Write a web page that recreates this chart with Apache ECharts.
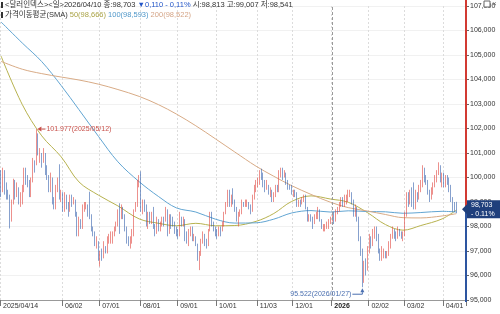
<!DOCTYPE html>
<html><head><meta charset="utf-8">
<script src="https://cdn.jsdelivr.net/npm/echarts@6/dist/echarts.min.js"></script>
<style>html,body{margin:0;padding:0;background:#fff;}#chart{width:500px;height:314px;}</style>
</head><body><div id="chart"></div>
<script>
const FONT = "'Liberation Sans','Noto Sans CJK KR',sans-serif";
const FS = 7;
const HFS = 7.5;

// trading days per month
const monthDays = [
 ['2025/04',[14,15,16,17,18,21,22,23,24,25,28,29,30]],
 ['2025/05',[1,2,5,6,7,8,9,12,13,14,15,16,19,20,21,22,23,26,27,28,29,30]],
 ['2025/06',[2,3,4,5,6,9,10,11,12,13,16,17,18,19,20,23,24,25,26,27,30]],
 ['2025/07',[1,2,3,4,7,8,9,10,11,14,15,16,17,18,21,22,23,24,25,28,29,30,31]],
 ['2025/08',[1,4,5,6,7,8,11,12,13,14,15,18,19,20,21,22,25,26,27,28,29]],
 ['2025/09',[1,2,3,4,5,8,9,10,11,12,15,16,17,18,19,22,23,24,25,26,29,30]],
 ['2025/10',[1,2,3,6,7,8,9,10,13,14,15,16,17,20,21,22,23,24,27,28,29,30,31]],
 ['2025/11',[3,4,5,6,7,10,11,12,13,14,17,18,19,20,21,24,25,26,27,28]],
 ['2025/12',[1,2,3,4,5,8,9,10,11,12,15,16,17,18,19,22,23,24,26,29,30,31]],
 ['2026/01',[2,5,6,7,8,9,12,13,14,15,16,19,20,21,22,23,26,27,28,29,30]],
 ['2026/02',[2,3,4,5,6,9,10,11,12,13,16,17,18,19,20,23,24,25,26,27]],
 ['2026/03',[2,3,4,5,6,9,10,11,12,13,16,17,18,19,20,23,24,25,26,27,30,31]],
 ['2026/04',[1,2,3,6,7,8,9,10]]
];

// daily candles: [open, close, low, high]
const ohlc = [
 // 2025/04
 [99.90,99.64,99.20,100.30],[99.60,100.22,99.40,100.40],[100.20,99.38,99.30,100.30],[99.40,99.38,99.10,99.80],[99.40,99.23,99.10,99.50],
 [99.20,98.28,97.92,99.30],[98.30,98.92,98.20,99.10],[98.95,99.84,98.90,99.95],[99.80,99.30,99.10,99.90],[99.30,99.47,99.20,99.80],
 [99.50,98.99,98.90,99.60],[99.00,99.21,98.80,99.40],[99.20,99.47,98.90,99.70],
 // 2025/05
 [99.50,100.25,99.40,100.40],[100.20,99.98,99.70,100.40],[100.00,99.84,99.60,100.10],[99.80,99.25,99.20,99.90],[99.30,99.89,99.20,100.00],
 [99.90,100.64,99.80,100.80],[100.60,100.42,100.20,100.70],[100.60,101.79,100.50,101.977],[101.80,100.99,100.90,101.80],[101.00,101.05,100.60,101.20],
 [101.00,100.85,100.40,101.00],[100.80,100.98,100.60,101.20],[100.90,100.39,100.10,101.00],[100.40,100.06,99.90,100.50],[100.00,99.55,99.40,100.10],
 [99.50,99.96,99.40,100.20],[99.90,99.11,98.90,100.00],[99.10,98.93,98.70,99.20],[98.90,99.53,98.70,99.70],[99.50,99.88,99.40,100.00],
 [99.90,99.29,99.10,100.54],[99.30,99.33,99.00,99.50],
 // 2025/06
 [99.30,98.69,98.60,99.40],[98.70,99.26,98.60,99.40],[99.30,98.79,98.70,99.30],[98.80,98.76,98.40,99.00],[98.70,99.19,98.60,99.30],
 [99.20,99.00,98.80,99.30],[99.00,99.09,98.90,99.20],[99.10,98.64,98.40,99.10],[98.60,97.92,97.60,98.60],[97.90,98.18,97.60,98.40],
 [98.20,98.03,97.90,98.30],[98.00,98.88,97.90,98.90],[98.90,98.90,98.60,99.00],[98.90,98.91,98.70,99.00],[98.90,98.71,98.40,98.90],
 [98.70,98.42,98.30,99.42],[98.40,97.86,97.80,98.50],[97.90,97.70,97.60,98.00],[97.70,97.38,97.20,97.80],[97.40,97.40,97.10,97.60],
 [97.40,96.88,96.60,97.40],
 // 2025/07
 [96.80,96.82,96.37,97.00],[96.80,96.76,96.60,97.10],[96.80,97.18,96.70,97.40],[97.20,96.98,96.90,97.20],[97.00,97.49,96.90,97.60],
 [97.50,97.55,97.30,97.70],[97.50,97.54,97.30,97.80],[97.50,97.65,97.30,97.80],[97.60,97.85,97.60,98.00],[97.90,98.08,97.80,98.20],
 [98.10,98.62,98.00,98.70],[98.60,98.38,97.70,98.95],[98.40,98.73,98.30,98.90],[98.70,98.46,98.30,98.80],[98.50,97.85,97.80,98.50],
 [97.90,97.39,97.30,98.00],[97.40,97.21,97.20,97.60],[97.20,97.38,97.10,97.60],[97.40,97.65,97.30,97.90],[97.60,98.63,97.60,98.70],
 [98.60,98.89,98.60,99.00],[98.90,99.78,98.80,99.90],[99.80,99.97,99.60,100.10],
 // 2025/08
 [100.00,98.69,98.60,100.25],[98.70,98.79,98.50,99.10],[98.80,98.78,98.60,99.10],[98.80,98.18,98.00,98.90],[98.20,98.39,97.90,98.60],
 [98.40,98.19,98.10,98.60],[98.20,98.51,98.10,98.60],[98.50,98.09,97.90,98.80],[98.10,97.84,97.60,98.10],[97.80,98.26,97.70,98.40],
 [98.30,97.85,97.80,98.30],[97.90,98.15,97.80,98.20],[98.10,98.27,98.00,98.40],[98.30,98.23,98.00,98.40],[98.20,98.62,98.20,98.80],
 [98.60,97.72,97.60,98.70],[97.70,98.43,97.70,98.50],[98.40,98.23,97.90,98.50],[98.20,98.20,98.00,98.40],[98.20,97.80,97.70,98.20],
 [97.80,97.77,97.60,98.00],
 // 2025/09
 [97.80,97.68,97.50,97.90],[97.70,98.38,97.60,98.60],[98.40,98.15,98.00,98.40],[98.10,98.35,98.00,98.40],[98.30,97.73,97.40,98.30],
 [97.70,97.44,97.30,97.80],[97.40,97.80,97.20,97.90],[97.80,97.80,97.60,98.00],[97.80,97.53,97.40,98.00],[97.50,97.55,97.40,97.70],
 [97.50,97.31,97.20,97.60],[97.30,96.63,96.60,97.30],[96.60,96.87,96.22,97.00],[96.90,97.35,96.80,97.50],[97.40,97.65,97.30,97.80],
 [97.60,97.33,97.20,97.70],[97.30,97.24,97.10,97.50],[97.20,97.86,97.20,97.90],[97.90,98.55,97.80,98.60],[98.50,98.16,98.00,98.60],
 [98.10,97.94,97.80,98.20],[97.90,97.77,97.60,98.00],
 // 2025/10
 [97.80,97.71,97.50,97.90],[97.70,97.85,97.60,98.00],[97.80,97.72,97.60,98.00],[97.80,98.11,97.80,98.20],[98.10,98.58,98.00,98.60],
 [98.60,98.86,98.50,99.00],[98.90,99.47,98.80,99.50],[99.40,98.83,98.80,99.50],[98.90,99.27,98.80,99.30],[99.30,99.05,98.90,99.56],
 [99.00,98.71,98.60,99.10],[98.70,98.34,98.20,98.80],[98.30,98.43,98.00,98.60],[98.50,98.58,98.40,98.70],[98.60,98.98,98.50,99.10],
 [99.00,98.89,98.80,99.00],[98.90,98.93,98.80,99.10],[98.90,98.95,98.80,99.10],[98.90,98.78,98.70,99.00],[98.80,98.67,98.50,98.90],
 [98.70,99.20,98.60,99.30],[99.20,99.53,99.10,99.70],[99.50,99.80,99.40,99.90],
 // 2025/11
 [99.80,99.87,99.60,100.00],[99.90,100.20,99.70,100.30],[100.20,100.15,99.90,100.36],[100.20,99.71,99.60,100.20],[99.70,99.60,99.40,99.90],
 [99.60,99.63,99.50,99.90],[99.60,99.43,99.30,99.70],[99.40,99.49,99.20,99.60],[99.50,99.16,99.00,99.50],[99.20,99.29,99.00,99.40],
 [99.30,99.56,99.20,99.70],[99.60,99.53,99.40,99.70],[99.50,100.23,99.40,100.30],[100.20,100.22,100.00,100.40],[100.20,100.16,99.90,100.40],
 [100.20,100.20,100.00,100.30],[100.20,99.79,99.70,100.20],[99.80,99.59,99.50,99.90],[99.60,99.56,99.50,99.70],[99.60,99.46,99.30,99.70],
 // 2025/12
 [99.40,99.42,99.20,99.50],[99.40,99.37,99.20,99.50],[99.40,98.88,98.80,99.40],[98.90,98.99,98.80,99.10],[99.00,98.99,98.80,99.10],
 [99.00,99.09,98.90,99.20],[99.10,99.23,99.00,99.30],[99.20,98.79,98.70,99.30],[98.80,98.35,98.20,98.80],[98.40,98.40,98.20,98.50],
 [98.40,98.31,98.20,98.50],[98.30,98.15,97.90,98.40],[98.20,98.40,98.10,98.50],[98.40,98.43,98.30,98.60],[98.40,98.72,98.30,98.80],
 [98.70,98.28,98.20,98.70],[98.30,97.94,97.90,98.30],[97.90,97.93,97.80,98.10],[97.90,98.02,97.80,98.10],[98.00,98.02,97.90,98.20],
 [98.00,98.23,97.90,98.30],[98.20,98.25,98.10,98.40],
 // 2026/01
 [98.30,98.43,98.20,98.60],[98.40,98.26,98.10,98.60],[98.30,98.59,98.20,98.70],[98.60,98.68,98.50,98.80],[98.70,98.90,98.60,99.00],
 [98.90,99.13,98.80,99.20],[99.10,98.87,98.80,99.20],[98.90,99.15,98.80,99.30],[99.10,99.12,98.90,99.30],[99.10,99.32,99.00,99.50],
 [99.30,99.39,99.20,99.50],[99.40,99.00,98.90,99.40],[99.00,98.60,98.40,99.10],[98.60,98.75,98.40,98.90],[98.70,98.35,98.20,98.80],
 [98.30,97.60,97.40,98.40],[97.50,97.00,96.80,97.60],[97.00,95.90,95.522,97.10],[95.90,96.40,95.70,96.60],[96.40,96.25,96.00,96.70],
 [96.30,97.10,96.20,97.20],
 // 2026/02
 [97.10,97.50,96.90,97.70],[97.50,97.30,97.10,97.60],[97.30,97.70,97.20,97.90],[97.70,97.90,97.50,98.00],[97.90,97.60,97.40,98.00],
 [97.60,97.00,96.90,97.70],[97.00,96.80,96.60,97.10],[96.80,96.90,96.60,97.20],[96.90,96.95,96.70,97.10],[96.90,96.85,96.70,97.00],
 [96.85,96.90,96.70,97.00],[96.90,97.20,96.80,97.40],[97.20,97.60,97.10,97.70],[97.60,97.80,97.50,98.00],[97.80,97.70,97.50,97.90],
 [97.70,97.55,97.40,97.80],[97.60,97.80,97.50,98.00],[97.80,97.70,97.60,97.90],[97.70,97.60,97.50,97.80],[97.60,97.70,97.40,97.80],
 // 2026/03
 [97.70,98.50,97.60,98.60],[98.50,99.20,98.40,99.40],[99.20,99.05,98.80,99.40],[99.00,99.30,98.90,99.50],[99.30,99.00,98.80,99.60],
 [99.00,98.80,98.70,99.80],[98.80,99.30,98.70,99.50],[99.30,99.20,99.00,99.40],[99.20,99.50,99.10,99.70],[99.50,99.70,99.40,99.90],
 [99.70,100.30,99.60,100.50],[100.30,99.90,99.80,100.40],[99.90,99.85,99.70,100.10],[99.90,99.40,99.30,99.90],[99.40,99.20,99.00,99.50],
 [99.20,99.40,99.10,99.60],[99.40,99.70,99.30,99.80],[99.70,99.90,99.60,100.10],[99.90,100.20,99.80,100.30],[100.20,100.45,100.10,100.62],
 [100.40,99.90,99.80,100.50],[99.90,100.10,99.60,100.20],
 // 2026/04
 [100.10,99.80,99.60,100.20],[99.80,100.00,99.60,100.10],[100.00,99.90,99.70,100.10],[99.90,99.60,99.40,100.00],[99.60,99.20,99.00,99.70],
 [99.10,98.90,98.60,99.20],[98.90,98.81,98.60,99.00],[98.813,98.703,98.541,99.007]
];

// moving averages read at checkpoints
const maDates = ['2025/04/14','2025/04/30','2025/05/15','2025/05/30','2025/06/13','2025/06/30','2025/07/15','2025/07/31','2025/08/15','2025/08/29','2025/09/15','2025/09/30','2025/10/15','2025/10/31','2025/11/14','2025/11/28','2025/12/15','2025/12/31','2026/01/15','2026/01/30','2026/02/13','2026/02/27','2026/03/13','2026/03/31','2026/04/10'];
const ma50  = [104.96,102.98,101.70,100.84,99.82,99.28,98.84,98.31,98.13,98.03,98.13,98.03,98.04,98.21,98.53,99.02,99.25,99.12,98.99,98.56,98.08,97.85,98.04,98.31,98.666];
const ma100 = [106.35,105.49,104.73,103.75,102.77,101.68,100.64,99.83,99.22,98.76,98.59,98.30,98.14,98.15,98.30,98.55,98.65,98.59,98.64,98.61,98.60,98.54,98.57,98.62,98.593];
const ma200 = [104.74,104.42,104.24,104.10,103.98,103.81,103.59,103.31,102.97,102.59,102.11,101.58,101.04,100.46,100.05,99.67,99.31,98.99,98.77,98.63,98.49,98.36,98.35,98.43,98.522];

const yMin = 95, yMax = 107, yStep = 1;
const lastClose = 98.703;
const lastCloseText = '98,703';
const lastChangeText = '- 0.11%';
const highPoint = {date:'2025/05/12', value:101.977, text:'101.977(2025/05/12)'};
const lowPoint = {date:'2026/01/27', value:95.522, text:'95.522(2026/01/27)'};
const divider = '2026/01/02';

// categories
const cats = [];
const monthStart = new Set();
monthDays.forEach(([ym, days]) => {
  days.forEach((d, k) => {
    if (k === 0 && ym !== '2025/05') monthStart.add(cats.length);
    cats.push(ym + '/' + String(d).padStart(2, '0'));
  });
});
for (let i = 1; i <= 5; i++) cats.push('pad' + i);

const toPairs = arr => maDates.map((d, i) => [cats.indexOf(d), arr[i]]);
const showIdx = (i) => monthStart.has(i);

const UP = '#e0463f', DOWN = '#3562ad';
const chart = echarts.init(document.getElementById('chart'), null, {renderer:'canvas', width:500, height:314});
const rs = (c, extra) => Object.assign({color: c, fontSize: HFS, fontFamily: FONT}, extra || {});

chart.setOption({
  animation: false,
  backgroundColor: '#fff',
  textStyle: {fontFamily: FONT},
  grid: {left: 0, right: 34, top: 6, bottom: 14, containLabel: false},
  title: [
    {left: 5, top: 1, padding: 0, text: '{a|<달러인덱스><일>2026/04/10 종:98,703 }{b|▼0,110 - 0,11%}{a| 시:98,813 고:99,007 저:98,541}',
     textStyle: {fontSize: HFS, fontWeight: 'normal', fontFamily: FONT, rich: {a: rs('#333'), b: rs('#2255c8')}}},
    {left: 5, top: 11, padding: 0, text: '{a|가격이동평균(SMA) }{c|50(98,666) }{d|100(98,593) }{e|200(98,522)}',
     textStyle: {fontSize: HFS, fontWeight: 'normal', fontFamily: FONT, rich: {a: rs('#333'), c: rs('#aaa346'), d: rs('#4f97c9'), e: rs('#d4a486')}}}
  ],
  xAxis: {
    type: 'category', data: cats, boundaryGap: true,
    axisLine: {show: true, lineStyle: {color: '#999', width: 1}},
    axisTick: {show: true, interval: (i) => showIdx(i), length: 6, lineStyle: {color: '#777'}},
    axisLabel: {
      show: true, interval: (i) => showIdx(i), align: 'left', margin: 2, fontSize: FS, color: '#333', fontFamily: FONT,
      padding: [1, 0, 0, 2],
      formatter: (v, i) => {
        if (i === 0) return v;
        if (v.slice(5, 7) === '01') return '{b|' + v.slice(0, 4) + '}';
        return v.slice(5);
      },
      rich: {b: {fontWeight: 'bold', fontSize: FS, color: '#222', fontFamily: FONT}}
    },
    splitLine: {show: true, interval: (i) => showIdx(i), lineStyle: {color: '#dcdcdc', type: [2, 2], width: 1}}
  },
  yAxis: {
    type: 'value', position: 'right', min: yMin, max: yMax, interval: yStep,
    axisLine: {show: false},
    axisTick: {show: true, length: 3, lineStyle: {color: '#666'}},
    axisLabel: {margin: 4, fontSize: FS, color: '#333', fontFamily: FONT, formatter: v => v.toFixed(3).replace('.', ',')},
    splitLine: {show: true, lineStyle: {color: '#f1f1f1', width: 1}}
  },
  series: [
    {type: 'candlestick', name: '달러인덱스', data: ohlc, z: 3, barWidth: 1.2,
     itemStyle: {color: UP, color0: DOWN, borderColor: UP, borderColor0: DOWN, borderWidth: 0.6},
     markLine: {silent: true, symbol: 'none', label: {show: false}, lineStyle: {color: '#9a9a9a', type: [3, 2], width: 1},
       data: [{xAxis: divider}]}},
    {type: 'line', name: 'SMA50', data: toPairs(ma50), showSymbol: false, smooth: 0.35, z: 2, lineStyle: {color: '#b7b24f', width: 1}},
    {type: 'line', name: 'SMA100', data: toPairs(ma100), showSymbol: false, smooth: 0.35, z: 2, lineStyle: {color: '#62a5d2', width: 1}},
    {type: 'line', name: 'SMA200', data: toPairs(ma200), showSymbol: false, smooth: 0.35, z: 2, lineStyle: {color: '#d8ab86', width: 1}}
  ]
});

// overlays positioned through the chart's own scales
const axisX = 500 - 34;
const yPrice = chart.convertToPixel({yAxisIndex: 0}, lastClose);
const yBot = chart.convertToPixel({yAxisIndex: 0}, yMin);
const hp = chart.convertToPixel({seriesIndex: 0}, [cats.indexOf(highPoint.date), highPoint.value]);
const lp = chart.convertToPixel({seriesIndex: 0}, [cats.indexOf(lowPoint.date), lowPoint.value]);
const F = FS + 'px ' + FONT;

chart.setOption({
  graphic: [
    {type: 'rect', shape: {x: 1, y: 2, width: 2, height: 6}, style: {fill: '#333'}, z: 10},
    {type: 'rect', shape: {x: 1, y: 12, width: 2, height: 6}, style: {fill: '#333'}, z: 10},
    {type: 'line', shape: {x1: axisX, y1: 0, x2: axisX, y2: yPrice}, style: {stroke: '#d23a32', lineWidth: 2}, z: 10},
    {type: 'line', shape: {x1: axisX, y1: yPrice, x2: axisX, y2: yBot + 2}, style: {stroke: '#2d55a0', lineWidth: 2}, z: 10},
    {type: 'polygon', shape: {points: [[axisX - 4, yPrice], [axisX + 1, yPrice - 5], [axisX + 1, yPrice + 5]]}, style: {fill: '#1f3f7c'}, z: 11},
    {type: 'rect', shape: {x: axisX + 1, y: yPrice - 9, width: 34, height: 18}, style: {fill: '#1f3f7c'}, z: 11},
    {type: 'text', x: axisX + 5, y: yPrice - 8, style: {text: lastCloseText + '\n' + lastChangeText, fill: '#fff', font: F, lineHeight: 8.5}, z: 12},
    // top-right icons
    {type: 'rect', shape: {x: 484, y: 1, width: 6, height: 6}, style: {fill: '#fff', stroke: '#666', lineWidth: 1}, z: 12},
    {type: 'text', x: 492, y: 0, style: {text: '×', fill: '#666', font: '8px ' + FONT}, z: 12},
    // high annotation
    {type: 'polygon', shape: {points: [[hp[0] + 1, hp[1]], [hp[0] + 5, hp[1] - 2.5], [hp[0] + 5, hp[1] + 2.5]]}, style: {fill: '#c8504a'}, z: 12},
    {type: 'line', shape: {x1: hp[0] + 5, y1: hp[1], x2: hp[0] + 9, y2: hp[1]}, style: {stroke: '#c8504a', lineWidth: 1}, z: 12},
    {type: 'text', x: hp[0] + 10, y: hp[1], style: {text: highPoint.text, fill: '#c8504a', font: F, verticalAlign: 'middle'}, z: 12},
    // low annotation
    {type: 'polygon', shape: {points: [[lp[0], lp[1] + 1], [lp[0] - 2, lp[1] + 5], [lp[0] + 2, lp[1] + 5]]}, style: {fill: '#4a6fb0'}, z: 12},
    {type: 'polyline', shape: {points: [[lp[0], lp[1] + 5], [lp[0], lp[1] + 7], [lp[0] - 10, lp[1] + 7]]}, style: {stroke: '#4a6fb0', lineWidth: 1, fill: null}, z: 12},
    {type: 'text', x: lp[0] - 11, y: lp[1] + 7, style: {text: lowPoint.text, fill: '#4a6fb0', font: F, align: 'right', verticalAlign: 'middle'}, z: 12}
  ]
});
</script>
</body></html>
